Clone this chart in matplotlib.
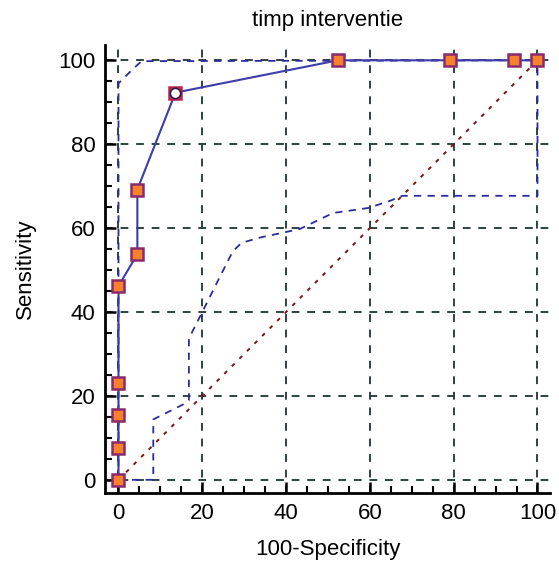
import matplotlib
matplotlib.use("Agg")
import matplotlib.pyplot as plt
from matplotlib.ticker import MultipleLocator

plt.rcParams['font.family'] = ['Liberation Sans', 'DejaVu Sans']

# ROC curve (100-Specificity, Sensitivity)
roc_x = [0, 0, 0, 0, 0, 4.5, 4.5, 13.6, 52.4, 79.2, 94.3, 100]
roc_y = [0, 7.7, 15.4, 23.1, 46.2, 53.8, 69.2, 92.3, 100, 100, 100, 100]
crit_x = [13.6]
crit_y = [92.3]

# Upper confidence band
up_x = [0, 0, 3.1, 5.5, 100]
up_y = [0, 94.5, 97.6, 99.8, 100]

# Lower confidence band
lo_x = [0, 8.3, 8.3, 15.5, 16.8, 16.8, 20, 24, 27.3, 29.4, 34, 39.2, 43.3,
        51.2, 59.6, 64.8, 67.7, 100, 100]
lo_y = [0, 0, 14.4, 18, 19, 33.7, 40, 48, 54.5, 56.5, 57.8, 58.9, 59.8,
        63.6, 64.8, 66.5, 67.7, 67.7, 100]

ticks = [0, 20, 40, 60, 80, 100]

fig = plt.figure(figsize=(5.59, 5.65), dpi=100)
ax = fig.add_axes([0.188, 0.127, 0.796, 0.793])

ax.set_xlim(-3.2, 103)
ax.set_ylim(-3.2, 103.6)

grid_c = '#2f4242'
for t in ticks:
    ax.axvline(t, color=grid_c, lw=1.4, ls=(0, (4, 4)), zorder=1)
    ax.axhline(t, color=grid_c, lw=1.4, ls=(0, (4, 4)), zorder=1)

ax.plot([0, 100], [0, 100], color='#7a1515', lw=1.4, ls=(0, (2, 3.5)), zorder=2)
ax.plot(up_x, up_y, color='#2b2ba0', lw=1.3, ls=(0, (4, 3.5)), zorder=3)
ax.plot(lo_x, lo_y, color='#2b2ba0', lw=1.3, ls=(0, (4, 3.5)), zorder=3)

ax.plot(roc_x, roc_y, color='#3d3daa', lw=1.5, zorder=4)
ax.plot(roc_x[:7] + roc_x[8:], roc_y[:7] + roc_y[8:], ls='none', marker='s',
        ms=8.5, mfc='#f5822a', mec='#8a2a6e', mew=1.8, zorder=5)
ax.plot(crit_x, crit_y, ls='none', marker='s', ms=8, mfc='#f5822a',
        mec='#c0204a', mew=1.8, zorder=5)
ax.plot(crit_x, crit_y, ls='none', marker='o', ms=7.5, mfc='white',
        mec='#302050', mew=1.3, zorder=6)

ax.xaxis.set_minor_locator(MultipleLocator(5))
ax.yaxis.set_minor_locator(MultipleLocator(5))
ax.set_xticks(ticks)
ax.set_yticks(ticks)
ax.tick_params(which='major', direction='in', length=8, width=1.8,
               labelsize=16, pad=7, colors='black')
ax.tick_params(which='minor', direction='in', length=5, width=1.5)

for s in ['top', 'right']:
    ax.spines[s].set_visible(False)
for s in ['left', 'bottom']:
    ax.spines[s].set_linewidth(2)

ax.set_xlabel('100-Specificity', fontsize=16, labelpad=11)
ax.set_ylabel('Sensitivity', fontsize=16, labelpad=16)
ax.set_title('timp interventie', fontsize=16, pad=14)

fig.savefig('out.png', dpi=100)
